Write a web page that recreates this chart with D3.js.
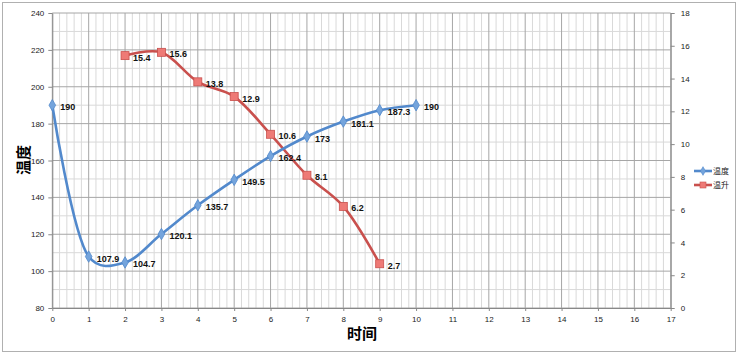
<!DOCTYPE html>
<html><head><meta charset="utf-8">
<script src="https://cdn.jsdelivr.net/npm/d3@7"></script>
<style>body{margin:0;background:#fff;} svg{display:block;font-family:"Liberation Sans",Arial,sans-serif;}</style>
</head><body>
<script>
const timeX = [0,1,2,3,4,5,6,7,8,9,10];
const tempValues = [190,107.9,104.7,120.1,135.7,149.5,162.4,173,181.1,187.3,190];
const riseX = [2,3,4,5,6,7,8,9];
const riseValues = [15.4,15.6,13.8,12.9,10.6,8.1,6.2,2.7];
const xTicks = d3.range(0,18,1);
const yLeftTicks = [80,100,120,140,160,180,200,220,240];
const yRightTicks = [0,2,4,6,8,10,12,14,16,18];
const seriesNames = ["温度","温升"];

const W=738,H=355;
const svg=d3.select("body").append("svg").attr("width",W).attr("height",H);
svg.append("rect").attr("x",2.5).attr("y",2.5).attr("width",733).attr("height",349).attr("fill","#fff").attr("stroke","#b0b0b0");

const x=d3.scaleLinear().domain([0,17]).range([52.3,670.7]);
const yL=d3.scaleLinear().domain([80,240]).range([308,13]);
const yR=d3.scaleLinear().domain([0,18]).range([308,13]);

const g=svg.append("g");
d3.range(0,17.001,0.2).forEach(v=>{ if(Math.abs(v-Math.round(v))>1e-6) g.append("line").attr("x1",x(v)).attr("x2",x(v)).attr("y1",yL(80)).attr("y2",yL(240)).attr("stroke","#d9d9d9").attr("stroke-width",1);});
d3.range(90,240,20).forEach(v=>g.append("line").attr("x1",x(0)).attr("x2",x(17)).attr("y1",yL(v)).attr("y2",yL(v)).attr("stroke","#d9d9d9"));
xTicks.forEach(v=>g.append("line").attr("x1",x(v)).attr("x2",x(v)).attr("y1",yL(80)).attr("y2",yL(240)).attr("stroke","#a6a6a6"));
yLeftTicks.forEach(v=>g.append("line").attr("x1",x(0)).attr("x2",x(17)).attr("y1",yL(v)).attr("y2",yL(v)).attr("stroke","#a6a6a6"));

function styleAxis(sel){
  sel.selectAll("path").attr("stroke","#888");
  sel.selectAll("line").attr("stroke","#888");
  sel.selectAll("text").attr("font-size","8px").attr("fill","#222");
}
svg.append("g").attr("transform",`translate(${x(0)},0)`).call(d3.axisLeft(yL).tickValues(yLeftTicks).tickSize(4).tickSizeOuter(0).tickPadding(4)).call(styleAxis);
svg.append("g").attr("transform",`translate(${x(17)},0)`).call(d3.axisRight(yR).tickValues(yRightTicks).tickSize(4).tickSizeOuter(0).tickPadding(6)).call(styleAxis);
svg.append("g").attr("transform",`translate(0,${yL(80)})`).call(d3.axisBottom(x).tickValues(xTicks).tickFormat(d3.format("d")).tickSize(3).tickSizeOuter(0).tickPadding(5)).call(styleAxis);

svg.append("text").attr("x",362).attr("y",339).attr("text-anchor","middle").attr("font-size","15px").attr("font-weight","bold").attr("font-family","Noto Sans CJK SC").text("时间");
svg.append("text").attr("transform","translate(29,160) rotate(-90)").attr("text-anchor","middle").attr("font-size","15px").attr("font-weight","bold").attr("font-family","Noto Sans CJK SC").text("温度");

const blue="#5289cc", blueM="#74a4dc", red="#c9504d", redM="#ee7a76";
const tempData=timeX.map((t,i)=>[t,tempValues[i]]);
const riseData=riseX.map((t,i)=>[t,riseValues[i]]);
const lineT=d3.line().x(d=>x(d[0])).y(d=>yL(d[1])).curve(d3.curveCatmullRom.alpha(0.3));
const lineR=d3.line().x(d=>x(d[0])).y(d=>yR(d[1])).curve(d3.curveCatmullRom.alpha(0.3));
svg.append("path").datum(riseData).attr("d",lineR).attr("fill","none").attr("stroke",red).attr("stroke-width",2.6);
svg.append("path").datum(tempData).attr("d",lineT).attr("fill","none").attr("stroke",blue).attr("stroke-width",2.6);

const sym=d3.symbol().type(d3.symbolDiamond).size(38);
svg.selectAll(".dm").data(tempData).enter().append("path").attr("d",sym).attr("transform",d=>`translate(${x(d[0])},${yL(d[1])})`).attr("fill",blueM).attr("stroke",blue).attr("stroke-width",0.8);
svg.selectAll(".sq").data(riseData).enter().append("rect").attr("x",d=>x(d[0])-4).attr("y",d=>yR(d[1])-4).attr("width",8).attr("height",8).attr("fill",redM).attr("stroke",red).attr("stroke-width",0.8);

const lab=svg.append("g").attr("font-size","9px").attr("font-weight","bold").attr("fill","#111");
tempData.forEach(d=>lab.append("text").attr("x",x(d[0])+8).attr("y",yL(d[1])+5).text(d[1]));
riseData.forEach(d=>lab.append("text").attr("x",x(d[0])+8).attr("y",yR(d[1])+5).text(d[1]));

const lg=svg.append("g");
[[0,blue,blueM,"d"],[1,red,redM,"s"]].forEach(([i,c,m,t])=>{
  const yy=171+i*14;
  lg.append("line").attr("x1",694).attr("x2",712).attr("y1",yy).attr("y2",yy).attr("stroke",c).attr("stroke-width",2.6);
  if(t==="d") lg.append("path").attr("d",d3.symbol().type(d3.symbolDiamond).size(22)).attr("transform",`translate(703,${yy})`).attr("fill",m).attr("stroke",c).attr("stroke-width",0.6);
  else lg.append("rect").attr("x",700).attr("y",yy-3).attr("width",6).attr("height",6).attr("fill",m).attr("stroke",c).attr("stroke-width",0.6);
  lg.append("text").attr("x",713).attr("y",yy+3).attr("font-size","8px").attr("font-family","Noto Sans CJK SC").attr("fill","#222").text(seriesNames[i]);
});
</script>
</body></html>
